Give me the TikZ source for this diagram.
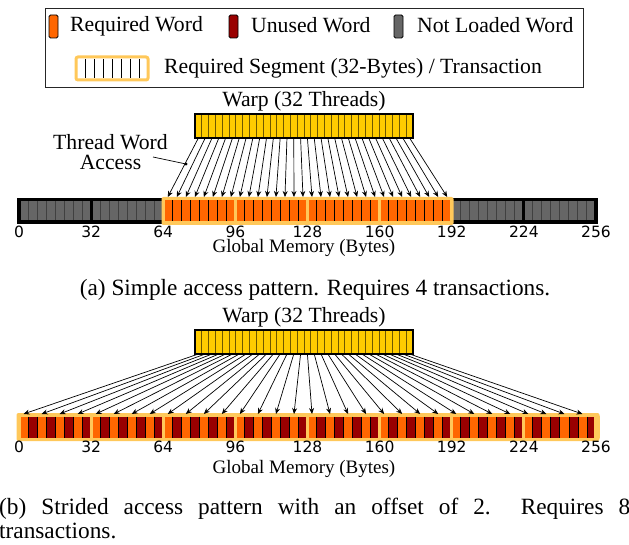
\documentclass[tikz,border=0pt]{standalone}
\usepackage{fontspec}
\setmainfont{Liberation Serif}
\newfontfamily\tickfont{DejaVu Sans}
\usetikzlibrary{arrows.meta}
\definecolor{reqor}{RGB}{255,102,0}
\definecolor{unred}{RGB}{153,0,0}
\definecolor{nlgray}{RGB}{102,102,102}
\definecolor{warpy}{RGB}{255,204,0}
\definecolor{segfr}{RGB}{255,200,90}
\definecolor{warpsep}{RGB}{110,88,0}
\begin{document}
\begin{tikzpicture}[x=1pt,y=-1pt,
  lbl/.style={font=\fontsize{21.7}{20}\selectfont, inner sep=0pt},
  caplbl/.style={font=\fontsize{23.3}{24}\selectfont, inner sep=0pt},
  ticklbl/.style={font=\tickfont\fontsize{15.5}{16}\selectfont, inner sep=0pt},
  axlbl/.style={font=\fontsize{19}{20}\selectfont, inner sep=0pt},
  acc/.style={-{Stealth[length=6pt,width=5pt]}, line width=0.7pt},
  swatch/.style={draw=black, line width=0.8pt, rounded corners=1.5pt}]
\useasboundingbox (0,0) rectangle (629,545);
\pgfmathsetmacro\ww{577/64}
\pgfmathsetmacro\sw{577/8}
\pgfmathsetmacro\tw{218/32}

% ---------------- Legend ----------------
\draw[line width=0.8pt, black!85] (45,8) rectangle (583,87);
\filldraw[swatch, fill=reqor] (49,15) rectangle (58,38);
\node[lbl, anchor=base west] (lreq) at (70,32) {Required Word};
\filldraw[swatch, fill=unred] (229,15) rectangle (238,38);
\node[lbl, anchor=base west] (luns) at (251,33) {Unused Word};
\filldraw[swatch, fill=nlgray] (394,15) rectangle (403,38);
\node[lbl, anchor=base west] (lnl) at (417,33) {Not Loaded Word};
\filldraw[draw=segfr, line width=3pt, fill=white, rounded corners=2pt] (76,57) rectangle (148,80);
\foreach \k in {1,...,7} \draw[line width=0.8pt] ({76+\k*9},59) -- ({76+\k*9},78);
\node[lbl, anchor=base west] (lseg) at (164,74) {Required Segment (32-Bytes) / Transaction};

% ---------------- (a) ----------------
\node[lbl, anchor=base] (wta) at (304,107) {Warp (32 Threads)};
\fill[warpy] (195,114) rectangle (413,138);
\foreach \k in {1,...,31} \draw[warpsep, line width=0.8pt] ({195+\k*\tw},114) -- ({195+\k*\tw},138);
\draw[line width=1.2pt] (195,114) rectangle (413,138);
\foreach \j in {0,...,31} \coordinate (wa\j) at ({195+(\j+0.5)*\tw},138);

% memory row a
\fill[black] (17,198) rectangle (598,224);
\foreach \s in {0,1,6,7} {
  \fill[nlgray] ({19+\s*\sw+1.6},201.5) rectangle ({19+(\s+1)*\sw-1.6},220.5);
  \foreach \c in {1,...,7} \draw[black!75, line width=1pt] ({19+\s*\sw+\c*\ww},201.5) -- ({19+\s*\sw+\c*\ww},220.5);
}
\fill[segfr, rounded corners=2pt] (161.5,197) rectangle (453.5,225);
\foreach \s in {2,...,5} {
  \fill[reqor] ({19+\s*\sw+1.6},200.5) rectangle ({19+(\s+1)*\sw-1.6},221.5);
  \foreach \c in {1,...,7} \draw[black, line width=0.9pt] ({19+\s*\sw+\c*\ww},200.5) -- ({19+\s*\sw+\c*\ww},221.5);
}
\foreach \i in {0,...,63} \coordinate (ma\i) at ({19+(\i+0.5)*\ww},197);
\foreach \j in {0,...,31} {
  \pgfmathtruncatemacro\m{\j+16}
  \draw[acc] (wa\j) -- (ma\m);
}
\foreach \k in {0,...,8} {
  \pgfmathtruncatemacro\lab{\k*32}
  \node[ticklbl] (ta\k) at ({19+\k*\sw},231.5) {\lab};
}
\node[axlbl, anchor=base] (gma) at (304,253) {Global Memory (Bytes)};

% thread word access label
\node[lbl, align=center] (twa) at (110.5,152) {Thread Word\\Access};
\coordinate (twl) at (153,157);
\coordinate (twd) at (186,164);
\draw[line width=0.7pt] (twl) -- (twd);
\fill (twd) circle (1.6pt);

\node[caplbl, anchor=base] (capa) at (315,296) {(a) Simple access pattern. Requires 4 transactions.};

% ---------------- (b) ----------------
\node[lbl, anchor=base] (wtb) at (304,323) {Warp (32 Threads)};
\fill[warpy] (195,330) rectangle (413,354);
\foreach \k in {1,...,31} \draw[warpsep, line width=0.8pt] ({195+\k*\tw},330) -- ({195+\k*\tw},354);
\draw[line width=1.2pt] (195,330) rectangle (413,354);
\foreach \j in {0,...,31} \coordinate (wb\j) at ({195+(\j+0.5)*\tw},354);

\fill[segfr, rounded corners=2pt] (16.5,413) rectangle (599.5,441);
\foreach \s in {0,...,7} {
  \foreach \c in {0,...,7} {
    \pgfmathtruncatemacro\odd{mod(\c,2)}
    \ifnum\odd=1
      \fill[unred] ({19+\s*\sw+\c*\ww},416.5) rectangle ({19+\s*\sw+(\c+1)*\ww},437.5);
    \else
      \fill[reqor] ({19+\s*\sw+\c*\ww},416.5) rectangle ({19+\s*\sw+(\c+1)*\ww},437.5);
    \fi
  }
  \foreach \c in {1,...,7} \draw[black, line width=0.9pt] ({19+\s*\sw+\c*\ww},416.5) -- ({19+\s*\sw+\c*\ww},437.5);
}
% segment gaps
\foreach \s in {1,...,7} \fill[segfr] ({19+\s*\sw-1.6},416) rectangle ({19+\s*\sw+1.6},438);
\fill[segfr] (16.5,416) rectangle (20.6,438);
\fill[segfr] (594.4,416) rectangle (599.5,438);
\foreach \i in {0,...,63} \coordinate (mb\i) at ({19+(\i+0.5)*\ww},414);
\foreach \j in {0,...,31} {
  \pgfmathtruncatemacro\m{2*\j}
  \draw[acc] (wb\j) -- (mb\m);
}
\foreach \k in {0,...,8} {
  \pgfmathtruncatemacro\lab{\k*32}
  \node[ticklbl] (tb\k) at ({19+\k*\sw},447) {\lab};
}
\node[axlbl, anchor=base] (gmb) at (304,473) {Global Memory (Bytes)};

\node[caplbl, anchor=base west] (capb1) at (-1,514) {\makebox[631pt][s]{(b) Strided access pattern with an offset of 2.\ \ Requires 8}};
\node[caplbl, anchor=base west] (capb2) at (-1,538) {transactions.};
\end{tikzpicture}
\end{document}
